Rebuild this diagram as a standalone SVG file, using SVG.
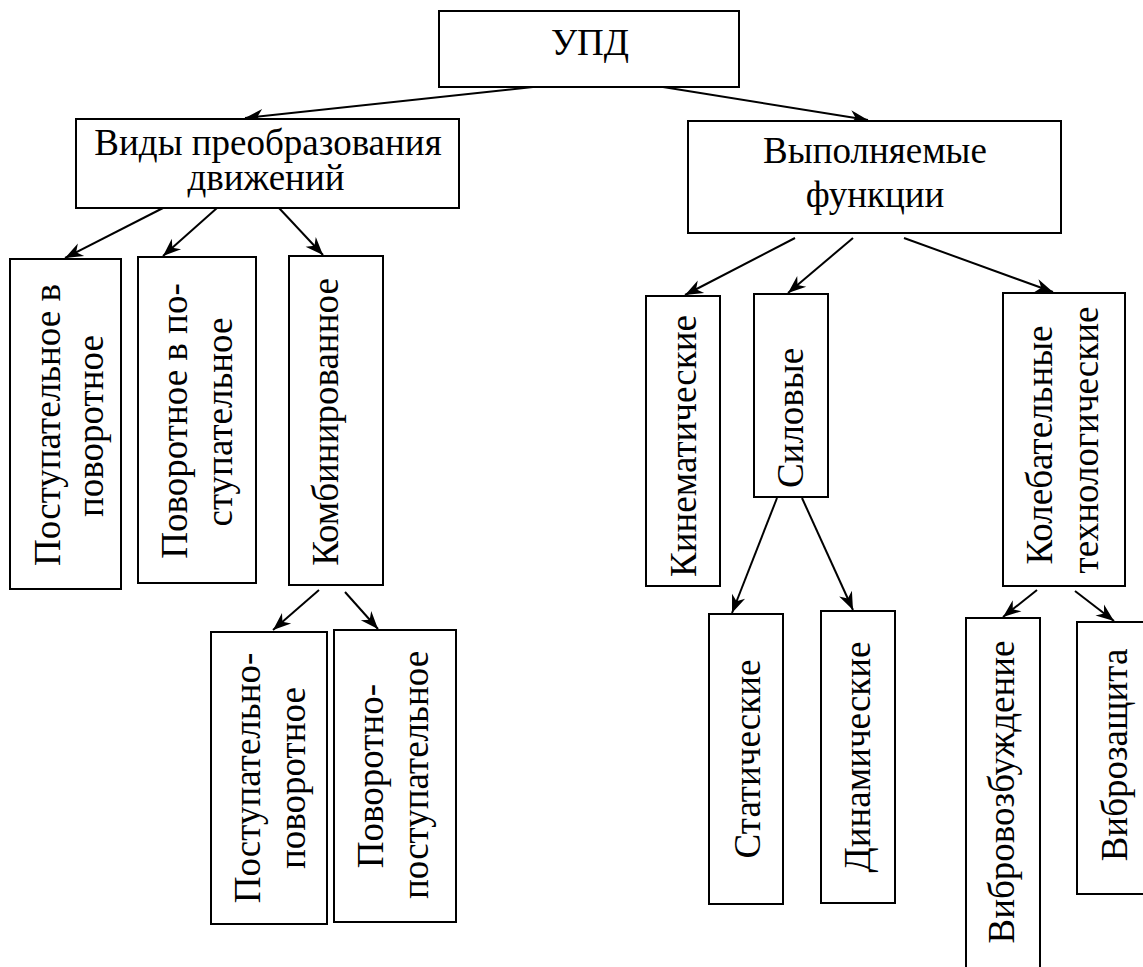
<svg xmlns="http://www.w3.org/2000/svg" width="1143" height="967" viewBox="0 0 1143 967">
<style>
  .box { fill: #fff; stroke: #000; stroke-width: 2; }
  .t { font-family: "Liberation Serif", "Times New Roman", serif; font-size: 37px; fill: #000; text-anchor: middle; }
  .c line { stroke: #000; stroke-width: 2; marker-end: url(#arr); }
</style>
<defs>
  <marker id="arr" markerUnits="userSpaceOnUse" viewBox="-19 -8 20 16" refX="0" refY="0" markerWidth="20" markerHeight="16" orient="auto">
    <path d="M0,0 L-18,-7 L-12.5,0 L-18,7 Z" fill="#000"/>
  </marker>
</defs>
<rect width="1143" height="967" fill="#fff"/>
<g class="c" id="connectors">
  <line x1="533" y1="87" x2="245" y2="118"/>
  <line x1="663" y1="87" x2="868" y2="120"/>
  <line x1="163" y1="208" x2="65" y2="258"/>
  <line x1="217" y1="208" x2="163" y2="256"/>
  <line x1="279" y1="208" x2="323" y2="255"/>
  <line x1="319" y1="590" x2="273" y2="630"/>
  <line x1="345" y1="592" x2="378" y2="629"/>
  <line x1="795" y1="238" x2="685" y2="295"/>
  <line x1="853" y1="238" x2="788" y2="293"/>
  <line x1="904" y1="238" x2="1053" y2="292"/>
  <line x1="777" y1="498" x2="732" y2="613"/>
  <line x1="802" y1="498" x2="853" y2="610"/>
  <line x1="1037" y1="590" x2="1003" y2="617"/>
  <line x1="1075" y1="591" x2="1114" y2="621"/>
</g>
<g id="upd">
  <rect class="box" x="439" y="11" width="300" height="76"/>
  <text class="t" x="590" y="55">УПД</text>
</g>
<g id="vidy">
  <rect class="box" x="76" y="119" width="383" height="89"/>
  <text class="t" x="268" y="155">Виды преобразования</text>
  <text class="t" x="266" y="190">движений</text>
</g>
<g id="vypolnyaemye">
  <rect class="box" x="688" y="121" width="373" height="112"/>
  <text class="t" x="875" y="163">Выполняемые</text>
  <text class="t" x="875" y="207">функции</text>
</g>
<g id="post-v-pov">
  <rect class="box" x="10" y="259" width="111" height="330"/>
  <text class="t" transform="translate(60,425) rotate(-90)">Поступательное в</text>
  <text class="t" transform="translate(103,426) rotate(-90)">поворотное</text>
</g>
<g id="pov-v-post">
  <rect class="box" x="138" y="257" width="118" height="326"/>
  <text class="t" transform="translate(187,421) rotate(-90)">Поворотное в по-</text>
  <text class="t" transform="translate(232,422) rotate(-90)">ступательное</text>
</g>
<g id="kombin">
  <rect class="box" x="289" y="256" width="94" height="329"/>
  <text class="t" transform="translate(338,422) rotate(-90)">Комбинированное</text>
</g>
<g id="post-pov">
  <rect class="box" x="211" y="632" width="116" height="292"/>
  <text class="t" transform="translate(260,778) rotate(-90)">Поступательно-</text>
  <text class="t" transform="translate(305,778) rotate(-90)">поворотное</text>
</g>
<g id="pov-post">
  <rect class="box" x="334" y="630" width="122" height="292"/>
  <text class="t" transform="translate(383,776) rotate(-90)">Поворотно-</text>
  <text class="t" transform="translate(428,775) rotate(-90)">поступательное</text>
</g>
<g id="kinemat">
  <rect class="box" x="646" y="296" width="74" height="290"/>
  <text class="t" transform="translate(696,446) rotate(-90)">Кинематические</text>
</g>
<g id="silovye">
  <rect class="box" x="754" y="294" width="74" height="203"/>
  <text class="t" transform="translate(803,418) rotate(-90)">Силовые</text>
</g>
<g id="kolebat">
  <rect class="box" x="1003" y="293" width="122" height="293"/>
  <text class="t" transform="translate(1052,445) rotate(-90)">Колебательные</text>
  <text class="t" transform="translate(1098,440) rotate(-90)">технологические</text>
</g>
<g id="statich">
  <rect class="box" x="709" y="614" width="74" height="290"/>
  <text class="t" transform="translate(760,759) rotate(-90)">Статические</text>
</g>
<g id="dinamich">
  <rect class="box" x="821" y="611" width="74" height="292"/>
  <text class="t" transform="translate(870,757) rotate(-90)">Динамические</text>
</g>
<g id="vibrovozb">
  <rect class="box" x="966" y="618" width="74" height="362"/>
  <text class="t" transform="translate(1014,792) rotate(-90)">Вибровозбуждение</text>
</g>
<g id="vibrozash">
  <rect class="box" x="1077" y="622" width="76" height="272"/>
  <text class="t" transform="translate(1127,755) rotate(-90)">Виброзащита</text>
</g>
</svg>
